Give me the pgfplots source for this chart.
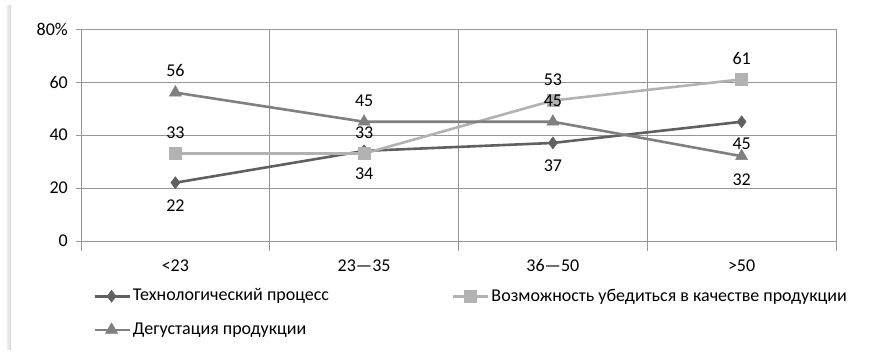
\documentclass[border=0pt]{standalone}
\usepackage{fontspec}
\setmainfont{Carlito}
\usepackage{pgfplots}
\pgfplotsset{compat=1.18}
\definecolor{sA}{RGB}{96,96,96}
\definecolor{sB}{RGB}{178,178,178}
\definecolor{sC}{RGB}{128,128,128}
\definecolor{gridc}{RGB}{150,150,150}
\begin{document}
\fontsize{18}{21.6}\selectfont
\begin{tikzpicture}
\path[use as bounding box] (0pt,0pt) rectangle (887pt,-352pt);
\shade[left color=white, right color=gray!35] (5pt,-6pt) rectangle (11pt,-350pt);
\begin{axis}[
  at={(81pt,-241pt)}, anchor=south west,
  scale only axis, width=755pt, height=212pt,
  xmin=-0.5, xmax=3.5, ymin=0, ymax=80,
  xtick={0,1,2,3},
  xticklabels={<23,23—35,36—50,>50},
  minor xtick={-0.5,0.5,1.5,2.5,3.5},
  ytick={0,20,40,60,80},
  yticklabels={0,20,40,60,80\%},
  major x tick style={draw=none},
  xminorgrids=true, ymajorgrids=true,
  grid style={gridc, line width=0.8pt},
  minor grid style={gridc, line width=0.8pt},
  axis line style={gridc, line width=0.8pt},
  tick style={gridc, line width=0.8pt},
  minor tick length=10pt, major tick length=5pt,
  tick align=outside,
  axis x line*=bottom, axis y line*=left,
  xticklabel style={yshift=-7pt, text height=12pt, text depth=0pt},
  yticklabel style={xshift=-2pt},
  /pgf/number format/assume math mode=true,
  tick label style={font=\fontsize{18}{21.6}\selectfont, text=black},
  nodes near coords,
  visualization depends on={\thisrow{d} \as \dd},
  every node near coord/.append style={anchor=center, yshift=\dd pt, inner sep=0pt, text=black, font=\fontsize{18}{21.6}\selectfont},
  legend columns=2,
  legend style={at={(0.016,-0.215)}, anchor=north west, draw=none, inner sep=0pt,
    font=\fontsize{18}{21.6}\selectfont, row sep=15pt,
    nodes={inner sep=2pt}},
  legend cell align=left,
  legend image code/.code={\draw[mark repeat=2,mark phase=2,#1] plot coordinates {(0pt,0pt) (17pt,0pt) (35pt,0pt)};},
]
\addplot[sA, line width=2.6pt, mark=diamond*, mark size=6pt, mark options={solid, fill=sA, draw=sA, line width=0.5pt}]
table[x=x,y=y]{
x y d
0 22 -23
1 34 -23
2 37 -23
3 45 -22
};
\addlegendentry{\makebox[317pt][l]{Технологический процесс}}
\addplot[sB, line width=2.6pt, mark=square*, mark size=6pt, mark options={solid, fill=sB, draw=sB, line width=0.5pt}]
table[x=x,y=y]{
x y d
0 33 21
1 33 21
2 53 21
3 61 21
};
\addlegendentry{Возможность убедиться в качестве продукции}
\addplot[sC, line width=2.6pt, mark=triangle*, mark size=7pt, mark options={solid, fill=sC, draw=sC, line width=0.5pt}]
table[x=x,y=y]{
x y d
0 56 22
1 45 21
2 45 21
3 32 -24
};
\addlegendentry{Дегустация продукции}
\end{axis}
\end{tikzpicture}
\end{document}
